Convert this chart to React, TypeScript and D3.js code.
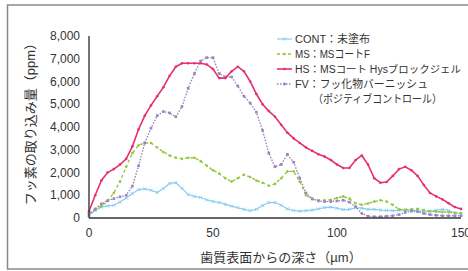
import React from "react";
import * as d3 from "d3";

const W = 468;
const H = 271;

// depth (µm) sampled every 2.5 µm
const depth: number[] = d3.range(0, 150.01, 2.5);

const yTicks: number[] = [0, 1000, 2000, 3000, 4000, 5000, 6000, 7000, 8000];
const xTicks: number[] = [0, 50, 100, 150];

const cont: number[] = [
  130, 330, 480, 530, 560, 700, 880, 1080, 1250, 1280, 1220, 1120, 1300, 1520, 1550, 1300,
  1030, 950, 900, 800, 730, 680, 600, 520, 450, 380, 320, 380, 550, 680, 680, 560,
  400, 330, 300, 320, 350, 400, 460, 480, 430, 370, 380, 450, 430, 380, 380, 350,
  330, 320, 330, 360, 350, 310, 280, 300, 340, 380, 330, 220, 200,
];
const ms: number[] = [
  230, 350, 520, 750, 1100, 1600, 2250, 2850, 3200, 3300, 3300, 3100, 2900, 2750, 2650, 2600,
  2650, 2650, 2500, 2300, 2100, 1950, 1750, 1600, 1750, 1900, 1800, 1650, 1550, 1420, 1500, 1750,
  2050, 2050, 1600, 1000, 820, 780, 780, 800, 880, 950, 850, 650, 580, 640, 720, 780,
  720, 580, 380, 360, 380, 400, 350, 300, 280, 260, 250, 230, 220,
];
const hs: number[] = [
  300, 1000, 1650, 2000, 2150, 2350, 2600, 3150, 3900, 4500, 4950, 5350, 5750, 6250, 6650, 6800,
  6800, 6800, 6800, 6750, 6550, 6150, 6150, 6450, 6650, 6450, 6000, 5450, 5000, 4700, 4450, 4100,
  3750, 3500, 3300, 3100, 2950, 2800, 2700, 2550, 2350, 2200, 2200, 2550, 2750, 2350, 1750, 1550,
  1580, 1850, 2150, 2250, 2100, 1850, 1450, 1100, 950, 820, 650, 480, 400,
];
const fv: number[] = [
  130, 400, 620, 760, 850, 930, 1000, 1400, 2300, 3300, 3950, 4500, 4680, 4620, 4450, 4900,
  5700, 6350, 6900, 7050, 7050, 6350, 6200, 6200, 5800, 5350, 5050, 4650, 3850, 2850, 2250, 2350,
  2800, 2450, 1750, 1100, 850, 750, 720, 720, 750, 780, 700, 500, 200, 80, 60, 60,
  80, 100, 150, 250, 300, 280, 200, 150, 120, 100, 100, 100, 100,
];

const seriesNames: string[] = ["CONT：未塗布", "MS：MSコートF", "HS：MSコート Hysブロックジェル", "FV：フッ化物バーニッシュ"];
const fvSecondLine = "（ポジティブコントロール）";
const yTitle = "フッ素の取り込み量（ppm）";
const xTitle = "歯質表面からの深さ（µm）";

const FONT = "'Liberation Sans', Arial, 'Noto Sans CJK JP', sans-serif";

type Style = { color: string; dash: string; width: number; marker: "dot" | "x" | "square" };
const styles: Style[] = [
  { color: "#86cdf0", dash: "", width: 1.2, marker: "x" },
  { color: "#93c83c", dash: "3,2.5", width: 1.4, marker: "dot" },
  { color: "#e5306f", dash: "", width: 1.6, marker: "dot" },
  { color: "#9a82c2", dash: "1.5,1.5", width: 1.4, marker: "square" },
];

function Marker({ x, y, s }: { x: number; y: number; s: Style }) {
  if (s.marker === "x") {
    const r = 1.6;
    return (
      <path
        d={`M${x - r},${y - r}L${x + r},${y + r}M${x - r},${y + r}L${x + r},${y - r}`}
        stroke={s.color}
        strokeWidth={0.9}
      />
    );
  }
  if (s.marker === "square") {
    return <rect x={x - 1.3} y={y - 1.3} width={2.6} height={2.6} fill={s.color} />;
  }
  return <circle cx={x} cy={y} r={1.3} fill={s.color} />;
}

export default function App() {
  const x = d3.scaleLinear().domain([0, 150]).range([89, 461]);
  const y = d3.scaleLinear().domain([0, 8000]).range([218, 36]);
  const data = [cont, ms, hs, fv];
  const line = d3
    .line<number>()
    .x((_, i) => x(depth[i]))
    .y((v) => y(v));
  const fmt = d3.format(",");
  const order = [0, 1, 3, 2];

  const legY = [39, 54, 69, 84];
  const legLen = [75, 75, 166, 133];
  const legFont = [11, 11, 10, 11];

  return (
    <svg
      width={W}
      height={H}
      style={{ position: "absolute", left: 0, top: 0, background: "#fff" }}
      fontFamily={FONT}
    >
      <rect x={7.5} y={5} width={480} height={264} fill="none" stroke="#8a8a8a" strokeWidth={1.5} />

      {/* series */}
      {order.map((k) => {
        const s = styles[k];
        return (
          <g key={k}>
            <path d={line(data[k]) || ""} fill="none" stroke={s.color} strokeWidth={s.width} strokeDasharray={s.dash} />
            {data[k].map((v, i) => (
              <Marker key={i} x={x(depth[i])} y={y(v)} s={s} />
            ))}
          </g>
        );
      })}

      {/* axes */}
      <line x1={x(0)} x2={x(0)} y1={y(8000)} y2={y(0)} stroke="#444" strokeWidth={1.5} />
      <line x1={x(0)} x2={x(150)} y1={y(0)} y2={y(0)} stroke="#333" strokeWidth={1.5} />

      {yTicks.map((t) => (
        <text key={t} x={80} y={y(t)} dy="0.35em" textAnchor="end" fontSize={12} fill="#333">
          {fmt(t)}
        </text>
      ))}
      {xTicks.map((t) => (
        <text key={t} x={x(t)} y={237} textAnchor="middle" fontSize={12} fill="#333">
          {t}
        </text>
      ))}

      <text
        transform={`translate(35,121) rotate(-90)`}
        textAnchor="middle"
        fontSize={13}
        fill="#333"
      >
        {yTitle}
      </text>
      <text x={281} y={262} textAnchor="middle" fontSize={13} fill="#333">
        {xTitle}
      </text>

      {/* legend */}
      {styles.map((s, k) => (
        <g key={k}>
          <line x1={277} x2={292} y1={legY[k]} y2={legY[k]} stroke={s.color} strokeWidth={s.width} strokeDasharray={s.dash} />
          <Marker x={284.5} y={legY[k]} s={s} />
          <text
            x={295}
            y={legY[k]}
            dy="0.35em"
            fontSize={legFont[k]}
            fill="#333"
            textLength={legLen[k]}
            lengthAdjust="spacingAndGlyphs"
          >
            {seriesNames[k]}
          </text>
        </g>
      ))}
      <text x={313} y={99} dy="0.35em" fontSize={11} fill="#333" textLength={129} lengthAdjust="spacingAndGlyphs">
        {fvSecondLine}
      </text>
    </svg>
  );
}
